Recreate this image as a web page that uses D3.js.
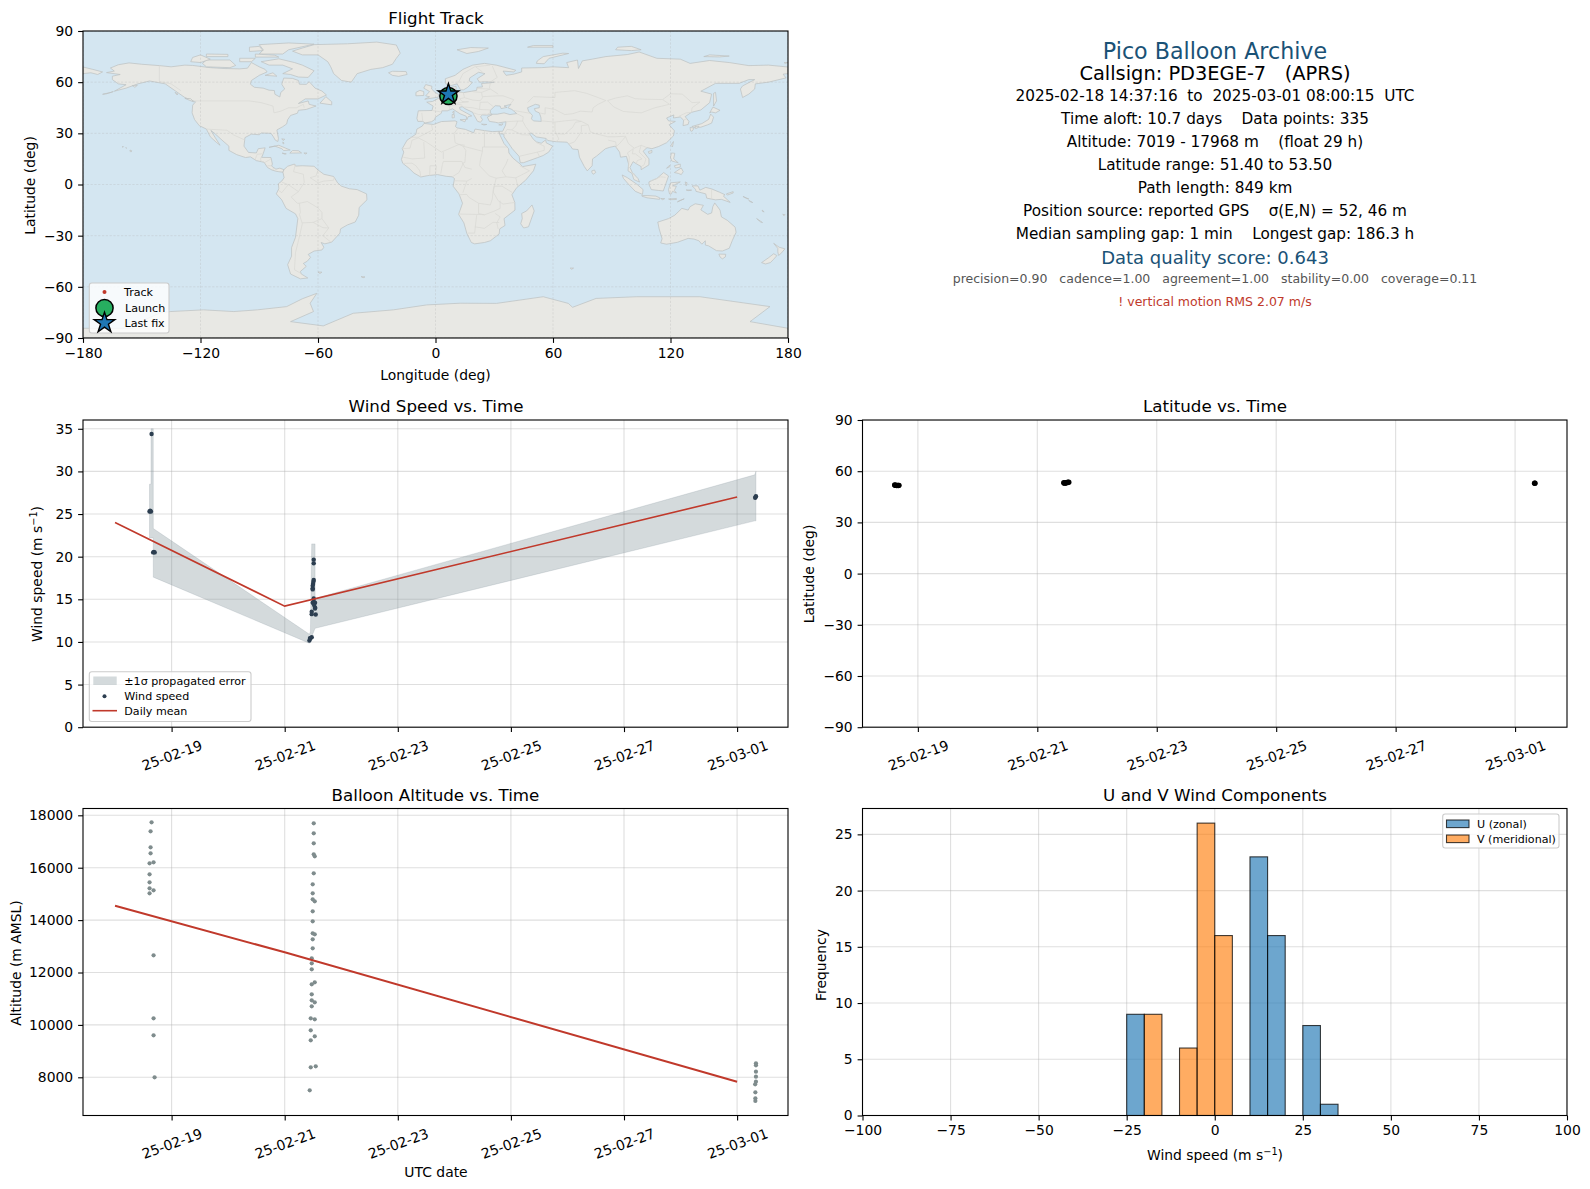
<!DOCTYPE html>
<html><head><meta charset="utf-8">
<script src="https://cdnjs.cloudflare.com/ajax/libs/d3/7.8.5/d3.min.js"></script>
<style>
html,body{margin:0;padding:0;background:#fff}
svg{display:block}
text{font-family:"DejaVu Sans",sans-serif}
</style></head><body><div id="c"></div>
<script>
// ---------- DATA ----------
const landPolygons = [
 // North America
 [[-168,65.6],[-164,66.5],[-166,68.3],[-162,70.2],[-156.5,71.3],[-150,70.5],[-141,69.7],[-135,69],[-128,70],[-124,69.8],[-115,68.5],[-108,68],[-100,67.8],[-96,68.2],[-94,71.5],[-90,69],[-87,67.5],[-86,66],[-90,64],[-94,61],[-94.5,58.8],[-92.5,57],[-88,56.5],[-85,55.3],[-82.3,55.1],[-82,52.9],[-79.5,51.3],[-79,54],[-77,56],[-78.5,58.8],[-77.5,62.4],[-73,62.2],[-70,61],[-69.5,58.8],[-66,58.7],[-64.5,60.3],[-61.5,56.5],[-58,54.8],[-55.7,52.5],[-60,50.2],[-66.5,50.2],[-70,47.5],[-65,49],[-64.5,47],[-61,46],[-66,44],[-70,43.5],[-70.5,41.8],[-74,40.5],[-75.5,38],[-76,35.5],[-78,33.9],[-81,32],[-80.2,27],[-80.5,25.2],[-81.8,26],[-82.8,28],[-84,30],[-89,30.2],[-90,29.2],[-94,29.5],[-97.3,27.5],[-97.8,22.5],[-95.5,18.8],[-91.5,18.5],[-90.5,21],[-87,21.5],[-88,18],[-88.8,15.9],[-84,15.8],[-83.3,12],[-83.7,10.8],[-81.5,9],[-79.5,9.6],[-77.4,8.7],[-77.9,7.2],[-80,7.5],[-81.5,7.8],[-83.5,8.5],[-85.8,10],[-87.5,13],[-91.5,14],[-94.5,16.2],[-97,15.8],[-101.5,17.5],[-105.5,20],[-105.5,22.5],[-109,26],[-112.8,30],[-114.7,31.7],[-112.5,27.5],[-110,23],[-112,24.8],[-115,28],[-117,32.5],[-120.6,34.5],[-123,38],[-124.3,42],[-124,46.5],[-122.5,48.5],[-128,51],[-133,55],[-138,59],[-146,60.7],[-152,59],[-158,56.5],[-164,54.7],[-158,58.5],[-162,59],[-165,61.5],[-165,63.5],[-161,64.5]],
 // South America
 [[-77.4,8.7],[-75.5,10.7],[-72,12],[-71.5,10.8],[-68,11],[-62,10.7],[-60,8.5],[-57,6],[-52,4.7],[-50,1],[-48,-1],[-44,-2.5],[-40,-3],[-35.2,-5.5],[-35,-9],[-39,-13.5],[-39.2,-18],[-41,-22],[-45,-23.7],[-48.5,-26],[-48.8,-28.5],[-53,-33.8],[-56.5,-34.8],[-58.4,-34],[-57,-36.8],[-58,-38.4],[-62,-39],[-65,-41],[-63.8,-42.7],[-65.5,-45],[-67.5,-46.3],[-66,-48],[-69,-51],[-68.5,-52.5],[-65.2,-54.8],[-69,-55.3],[-74,-52.5],[-75.5,-47],[-73.5,-42],[-73.5,-37],[-71.5,-31],[-70.3,-20],[-71.5,-17.2],[-76.3,-14],[-78.5,-9],[-81.3,-5.5],[-80,-2.5],[-80.2,0.5],[-78.5,2],[-77.3,4],[-77.9,7.2]],
 // Greenland
 [[-73,78.2],[-68,80],[-62,82],[-45,82.5],[-30,83.5],[-20,81.8],[-18,77],[-20,74],[-22,70.5],[-27,68.5],[-33,67.5],[-40,65],[-43,60],[-48,61],[-52,65],[-53.5,69],[-55,72],[-60,76],[-68,76]],
 // Canadian Arctic and Atlantic islands
 [[-80,73.7],[-72,71.5],[-68,70],[-62,66.7],[-65,62.8],[-70,63],[-74,64.5],[-78,65],[-73,67.8],[-78,70],[-85,70],[-89,72]],
 [[-117,69],[-105,68.5],[-102,69.8],[-105,73],[-117,73],[-119,71]],
 [[-125,72],[-120,71.5],[-115,73.5],[-120,76],[-124,74.5]],
 [[-90,76.5],[-78,76.5],[-75,79],[-62,82.3],[-75,83],[-90,82],[-88,79]],
 [[-92,74.7],[-80,74.7],[-82,75.8],[-92,76.5]],
 [[-117,75],[-106,75],[-106,76.3],[-117,76.5]],
 [[-95,78],[-88,78.5],[-90,81],[-95,80.5]],
 [[-100,72],[-94,72],[-92,74],[-100,74]],
 [[-87,64],[-81,63.5],[-83,65.5]],
 [[-59,47.7],[-53,46.7],[-53,48.5],[-56,51.5]],
 [[-128,50.5],[-123.5,48.4],[-125,50.3]],
 [[-133,54],[-131.5,53],[-132,52.5]],
 // Europe offshore
 [[-24,65.5],[-22,64],[-18.8,63.4],[-14.5,64.5],[-15,66.2],[-22,66.4]],
 [[-5.5,50],[1.3,51.2],[1.7,52.7],[-0.2,54],[-2,56],[-1.8,57.6],[-5,58.6],[-6,56.5],[-3,54.5],[-5,52],[-3,51.4]],
 [[-10,52],[-6,52.2],[-6,54.5],[-8,55.2],[-10,54]],
 [[8.5,41],[9.6,41],[9.6,39.2],[8.5,39]],
 [[8.7,42.5],[9.5,43],[9.4,41.5]],
 [[12.5,38],[15.5,38.2],[15,36.7]],
 [[23.5,35.4],[26.2,35.2],[24.7,34.9]],
 [[32.3,35],[34.5,35.6],[33.7,34.7]],
 // Caribbean and Pacific
 [[-85,21.8],[-80,23],[-74.2,20.2],[-77.5,19.9],[-78.5,21],[-82,22.5]],
 [[-74.4,18.4],[-68.4,18.5],[-70,19.8],[-73,19.9]],
 [[-78.3,18.4],[-76.2,18],[-77,17.8]],
 [[-67.2,18.5],[-65.6,18.4],[-66.5,17.9]],
 [[-78.5,26.8],[-77,26.5],[-77.8,25.8]],
 [[-78,25],[-77.3,24.2],[-77.8,23.8]],
 [[-156,20.2],[-155,19.7],[-155.6,19],[-156,19.6]],
 [[-158.2,21.6],[-157.7,21.4],[-158,21.2]],
 [[-160,22.2],[-159.3,22.2],[-159.6,21.8]],
 [[-170,52.9],[-166,53.9],[-164.5,54.5],[-168,53.2]],
 [[-154.8,58],[-152.2,58.2],[-153.5,57]],
 [[-60,-51.3],[-58,-51.4],[-59,-52.2]],
 [[-38,-54],[-36,-54.2],[-37,-54.7]],
 // Chukotka west of the date line
 [[-180,68.9],[-175,67.5],[-170,66],[-172.5,64.5],[-176,65.5],[-180,65]],
 // Eurasia
 [[-9,37],[-9.5,38.8],[-8.8,43.2],[-1.8,43.4],[-1.2,46],[-4.5,48.3],[-1.5,48.7],[1.5,50.5],[4,52],[7,53.5],[8.6,54],[8.2,57],[10.5,57.6],[10.5,55],[12,54.2],[14.3,53.9],[18.5,54.7],[21,55.2],[21.2,57],[24,57.2],[23.5,59.2],[28,59.6],[30,60],[25,60.2],[22.5,60],[21.3,62],[25.3,65],[22,65.8],[17.5,62.5],[17.2,60.7],[18.8,59.8],[16.5,57],[14.3,55.5],[12.8,55.5],[11,59],[8,58],[5.2,59],[5,62],[10,64],[14,67.5],[19,70],[25,71],[31,70],[41,67],[40,66],[34.5,66.5],[36,64],[40,64.7],[44,66],[44,68.3],[54,68.5],[60,69],[68,68.5],[67,71.5],[72.5,73],[73,68],[75,72.5],[80,73.5],[87,75],[98,76.2],[104,77.7],[113,74],[125,73.5],[130,71],[140,72.7],[150,71.5],[160,69.7],[170,70],[180,68.9],[180,65],[177.5,64.7],[179,62.5],[170,60],[163.3,59],[163,56],[160,53],[156.8,51],[155.7,56],[156.8,57.8],[163,61.5],[160,61.5],[155,59.3],[143,59.3],[135.5,54.7],[141,53],[140,48],[135.5,43.7],[130.7,42.3],[127.5,39.8],[129.4,37],[129,35.2],[126.4,34.5],[126.7,37.7],[125,39.6],[121.5,39],[121.7,40.8],[118,39],[119,37.3],[122.5,37],[119.3,35],[122,31.5],[121.5,28.5],[118,24.5],[114,22.3],[110.5,21],[108,21.6],[106,19.5],[109,15],[109,11.5],[105,8.7],[105,10.5],[102.5,12.2],[100.9,13.4],[99.3,10],[100.5,7],[103.4,3.5],[104.2,1.4],[101.3,2.9],[100.3,6.5],[98.3,8],[98.6,12],[97.5,16.5],[94.5,16],[94,19],[91.8,22.5],[89,21.8],[86.8,21],[82.3,16.7],[80.2,15],[80,11],[77.5,8],[76,10.5],[73.5,16],[72.8,20.5],[70,20.8],[69,22.4],[67.2,24.8],[61.5,25.1],[57.3,25.8],[56.5,27],[51.5,27.9],[48.8,30.2],[48,29.8],[50,26.5],[51.5,25],[54,24.2],[56.3,26.2],[56.5,24.5],[59.8,22.5],[57.8,19],[55,17],[52,15.7],[45,12.8],[43.3,12.7],[42.7,16.5],[39.2,21],[35,28],[34.9,29.5],[32.6,29.8],[32.3,31.2],[34.3,31.2],[35.8,34.8],[36,36.8],[32,36.1],[30.5,36.5],[27.5,37],[26.5,39.5],[29,41],[26,40.7],[24,40.8],[23,39.8],[24,38],[23,36.5],[21.5,37],[19.5,41],[19,42.3],[15,44.5],[13.7,45.6],[12.3,45.3],[12.5,44],[16,41.8],[18.5,40.2],[16.7,39.8],[16,38],[15.7,40],[12.5,41.5],[10.5,43],[8.7,44.4],[6,43.2],[3.2,43.2],[3,41.8],[0,39.5],[-0.5,38],[-2,36.8],[-5.3,36.1],[-6.5,37]],
 // Africa
 [[-5.9,35.8],[-1,35.2],[3,36.9],[10,37.3],[11,36.8],[10.2,34],[11,33.2],[15.3,32.3],[19.5,30.3],[20.2,32.5],[25,31.6],[29,31],[32.3,31.2],[32.6,29.8],[35,24],[37.3,21],[37.5,18.5],[39.5,15.5],[43.2,12],[44.5,10.5],[51.2,11.9],[50,8],[46,2.5],[41.5,-1.8],[39,-6],[40.5,-10.5],[40.6,-15],[35,-20],[35.5,-24],[32.8,-26],[32.5,-29],[28,-33],[25,-34],[20,-34.8],[18.3,-34],[16,-28.7],[14.5,-22.5],[11.8,-17.5],[13.8,-11],[12,-5.5],[9,-1],[9.7,3.5],[8.5,4.5],[5.5,4.8],[1,5.8],[-4,5.2],[-7.5,4.4],[-11,6.7],[-13.5,9.5],[-16.7,12.4],[-17.4,14.7],[-16.2,19],[-17,21],[-14.5,26],[-10,29.5],[-9.5,32.5],[-6.8,34.2]],
 [[49.3,-12],[50.4,-15.5],[47.5,-24.8],[45,-25.5],[43.5,-23],[44.3,-20],[44,-17],[46.5,-15.5]],
 // Asia offshore
 [[79.8,8],[81.2,8.5],[81.8,7],[80.5,6],[79.9,7]],
 [[120.2,23],[121.5,25.2],[121,22]],
 [[108.7,19.3],[110.5,20],[110.5,18.7],[109,18.2]],
 [[130.9,34],[136,35.7],[139.5,38.2],[140.5,41.3],[142,39.5],[141,36],[139,35],[135.5,33.6],[132,33.5]],
 [[130,33.5],[132,33],[131,31.2],[130.2,31.5]],
 [[132.5,34],[134.5,34.2],[134,33.3],[132.8,32.8]],
 [[140,42],[141.7,45.4],[145.3,43.5],[143,42],[141,42.5]],
 [[142,46],[143.5,49],[143,54],[142,53.5],[142,49]],
 [[51.5,71],[55.5,70.8],[58,74],[68,76.8],[65,77],[55,75],[52,72.5]],
 [[11,79],[16,76.8],[22,78],[27,80],[18,80.3]],
 [[47,80.5],[60,80.5],[60,81.5],[50,81.5]],
 [[92,79],[100,78.5],[105,79],[100,81],[93,80.5]],
 [[137,75],[145,74.8],[150,75.3],[140,76]],
 [[178.5,71],[180,71.5],[178,71.5]],
 [[95.3,5.6],[98,4],[103,0],[106,-3],[105.7,-5.8],[102,-4],[98.7,0],[96,3.5]],
 [[105.3,-6.5],[108.5,-6.5],[112.5,-6.8],[114.5,-7.8],[114.4,-8.7],[108,-7.8],[105.5,-6.9]],
 [[109,1.5],[111.5,2.8],[113,3.5],[116.5,7],[119,5],[117.8,1],[116.3,-3.8],[114,-3.5],[110.2,-3],[109,0]],
 [[119.5,-5.5],[119,-3],[120,1],[125,1.5],[121,-0.8],[123,-1],[122,-3.5],[123,-5],[121,-4],[120.5,-5.5]],
 [[131,-0.8],[134,-0.8],[135,-3.3],[138,-1.7],[141,-2.6],[145,-4.5],[147.8,-6],[147,-6.8],[150.5,-10.5],[146,-8.7],[143,-9],[138.5,-8],[138,-5.5],[133,-4],[132.8,-2.8]],
 [[148.5,-5.5],[152,-4.2],[152,-5],[149,-6.2]],
 [[120.5,18.5],[122.2,18.3],[121.6,15],[124,12.7],[120.6,13.8],[120,16]],
 [[122,7],[125.5,9.7],[126.5,7.5],[125.5,5.8],[124,6.5]],
 [[122,11],[125,12],[125,10.2],[122.5,9.7]],
 [[118,9.5],[119.5,11.3],[119.7,10.5]],
 [[123.5,-10.2],[127,-8.4],[125,-9.3]],
 [[119,-8.5],[123,-8.2],[123,-8.8],[119.8,-8.9]],
 [[115,-8.2],[117,-8.3],[116,-8.9]],
 [[127.5,1.5],[128.5,1],[128,-0.8]],
 [[128,-3.2],[130.8,-3.3],[129,-3.6]],
 [[157,-7],[160,-8.5],[159,-8.3]],
 [[160,-9.3],[162,-10.6],[160.5,-10]],
 [[166.8,-15],[167.8,-16],[167,-15.8]],
 [[164,-20],[167,-22.3],[166,-22]],
 [[177.3,-17.5],[178.5,-17.7],[178,-18.3]],
 // Australia, New Zealand
 [[113.5,-22],[114.2,-26],[115.7,-31.8],[115,-34.3],[118,-35],[123.5,-33.9],[129,-31.6],[132,-32],[134.5,-33],[136,-35],[137.8,-33],[137.8,-35.5],[139.5,-36],[143.5,-38.8],[146.5,-39],[150,-37.4],[151.5,-33],[153.5,-28],[153,-25],[149,-21],[146,-19],[145.3,-15],[142.6,-10.8],[141.6,-13],[141,-16.7],[139,-17.5],[135.5,-14.9],[136.8,-12.2],[132.6,-11.3],[130,-13],[129,-15],[125.8,-14],[122.2,-18],[119,-20],[114.2,-21.8]],
 [[144.7,-40.8],[148.2,-40.9],[148,-42.5],[146.5,-43.6],[145.3,-42.5]],
 [[172.7,-34.5],[175.5,-36.8],[178.4,-37.7],[176.8,-40],[175.2,-41.6],[174.8,-39.5],[174.8,-37.5]],
 [[172.7,-40.6],[174.3,-41.7],[172.7,-43.8],[171,-45.8],[168.5,-46.6],[166.5,-45.8],[170,-43]],
 [[68.8,-49],[70.5,-49],[69.5,-49.7]],
 // Antarctica
 [[-180,-90],[-180,-84.3],[-155,-84.3],[-148,-79],[-140,-75],[-135.5,-74.5],[-118.5,-73.5],[-103,-74.5],[-91,-73.5],[-76,-71.6],[-68,-67],[-60.6,-63.8],[-64,-69.6],[-62.3,-74.5],[-74,-80.4],[-57.3,-82.9],[-42,-75.5],[-21.5,-73.5],[-4.5,-70.6],[12.6,-69.6],[31.2,-69.7],[55,-65.8],[67.8,-69.7],[70,-72],[82,-66.8],[102.7,-65.8],[135,-65.8],[170.8,-71.6],[160.6,-80.4],[180,-84.3],[180,-90]]
];
const waterPolygons = [
 [[29,41.2],[31.5,41.2],[35,42],[38,41],[41.5,41.6],[39,44],[37,45],[38.5,47],[35,46],[36.5,45.2],[33.5,44.5],[33,46],[30.5,46.2],[28,43.5],[28,41.8]],
 [[47,45],[51,47],[53,46.5],[53,45],[50.5,44.5],[51,43],[53,42],[53.8,39.5],[54,37],[50,37.3],[49,38.5],[49.5,40.5],[47.5,43]]
];
const borderLines = [
 [[-123,49],[-95,49],[-89,48],[-83,46],[-82.5,42],[-79,43],[-75,45],[-71,45],[-67.5,47],[-67,45]],
 [[-141,69.7],[-141,60.3],[-135,59],[-130,55]],
 [[-117,32.5],[-106.5,31.8],[-103,29],[-97.2,26]],
 [[-92.2,14.5],[-91,17.8],[-89,17.9],[-88.3,18.5]],
 [[-89.2,15.9],[-89.3,14],[-87.5,13]],[[-84,15],[-87,13]],[[-83.7,11],[-85.8,11]],[[-83,8.5],[-82.8,9.6]],
 [[-71.5,12],[-72.5,7.5],[-67.5,6],[-67,1.2]],
 [[-67,1.2],[-70,-4.2],[-75,-0.2],[-78.5,1.4]],
 [[-80.3,-3.4],[-78.5,-4.8],[-75.2,-0.1]],
 [[-70,-4.2],[-73.7,-7.3],[-70.6,-11],[-69.5,-11],[-65.4,-10],[-60,-13.7],[-58,-16.3],[-58,-20],[-54.5,-25.5],[-57.5,-30],[-53.5,-33.7]],
 [[-60,8.5],[-61,5],[-64,4],[-60,1],[-57,2],[-52,2.5],[-51.7,4.3]],
 [[-69.5,-11],[-69,-16.5],[-69.5,-17.5],[-68,-23],[-70,-33],[-71.5,-40],[-72,-50],[-68.5,-52.3]],
 [[-68,-22.5],[-62.5,-22.2],[-58,-20]],[[-62.5,-22.2],[-57.5,-25.3],[-54.5,-25.5]],
 [[-2,35],[-1.5,32],[-8.7,27.7],[-13,27.7]],
 [[-8.7,27.3],[-4.8,25],[3,19],[12,23.5],[15,23]],
 [[-17,21],[-13,21.3],[-12,26],[-8.7,27.3]],
 [[-6,24.9],[-5.5,15.5],[-12,15],[-16.5,16]],
 [[11.5,33],[9.5,30],[10,24.5],[12,23.5],[14,22.5],[24,19.5],[24,22],[25,22],[25,31.5]],
 [[25,22],[37,22]],
 [[14,22.5],[15.5,20],[15,13],[14,12.5],[15,10],[18.5,9]],
 [[24,19.5],[23,15],[22.5,11]],
 [[22.5,11],[27.5,5],[31,3.7],[34,4.2],[36,4.5],[41,3.9],[42,-1]],
 [[37,15],[36,12],[34,8],[36,4.5]],
 [[41,3.9],[48,8],[43,11]],
 [[2.7,6.4],[3.5,11.7],[4,13.5],[13.5,13.5],[14,12],[12,7],[8.7,4.6]],
 [[-3,5],[-2.8,11],[0.5,11],[0,6]],
 [[-7.5,4.4],[-8,8],[-10,11],[-12,12.5],[-16.5,12.4]],
 [[4,15],[4,19]],
 [[12.2,-6],[16,-5.8],[17,-7.5],[22,-11],[28,-12],[29,-8.5],[29.5,-3],[31,3.7]],
 [[18.5,3.5],[16,2],[14,-4.8]],[[9.6,2.2],[16,2]],
 [[11.8,-17.3],[23.4,-17.6],[25,-17.8]],
 [[21,-18],[20,-28.5],[16.5,-28.5]],
 [[20,-24.8],[25,-25.7],[29.3,-22.2],[32.5,-22.3]],
 [[30.5,-17],[33,-19],[31.3,-22.4],[32,-26]],
 [[34,-1],[39.2,-4.7]],
 [[34,-1],[30,-1],[29.5,-4.5],[32,-9.5],[34.5,-11.5],[40.5,-10.5]],
 [[22,-11],[22,-17],[25,-17.8],[30,-15.6],[33,-14],[33,-9.5]],
 [[-1.8,43.4],[3.2,42.5]],
 [[-7,42],[-6.5,37]],
 [[2.5,51],[6,49.5],[8,49],[7.5,47.5],[6.9,46],[7.5,43.8]],
 [[6.5,53],[6,50.8]],
 [[9,54.8],[14.2,53.9],[14.8,50.9],[12.5,50.3],[13.5,48.7],[16.9,48.5],[9.6,47.5]],
 [[7,45.9],[12,47],[13.7,46.5]],
 [[14.8,50.9],[19,49.5],[22.8,49.1],[24,50.8],[23.5,54],[19,54.4]],
 [[22.8,48.2],[26.6,48.3],[29.7,45.5]],
 [[24,51.5],[32,52],[34.5,52],[40,49.7],[38.2,47.1]],
 [[23.5,54],[28,56],[32,53]],[[21,56.3],[28,56]],[[28,59.5],[27.5,56.5]],
 [[28.5,60.5],[31.5,62.8],[29,69.5]],
 [[11.2,59],[12.5,61.5],[14,65],[20,69],[28,70]],
 [[24,66],[20.5,69]],
 [[13.7,45.5],[19,45],[22.5,44],[22.8,48.2]],
 [[19.5,42],[22,41],[26,41.3]],[[22.5,44],[28,43.7]],
 [[26.5,41.3],[28,42]],
 [[36,36.8],[42,37.2],[44.5,37.2],[44.8,39.7],[41.5,41.5]],
 [[40,43.4],[48.5,41.7]],
 [[42,37.2],[41,34.4],[39,32],[36.5,32.3],[35,29.5]],
 [[39,32],[44,29.2],[48,29]],
 [[43,16.6],[52,19],[55.5,20],[55.5,22.5],[51.6,24.5]],[[52,19],[53,16.7]],
 [[44.5,37.2],[46,34],[48.5,30.2]],
 [[61,36.6],[61,31.5],[63,26.6],[61.5,25.1]],
 [[61,29.8],[66,29.5],[70,33.5],[71.5,36.5],[74.5,37]],
 [[61,36.6],[66,37.3],[71.5,37.9],[74.5,37]],
 [[47,48],[50,51.5],[61,51],[61,54],[71,55],[77,53.5],[83,51],[87,49.2]],
 [[53,42],[56,41.3],[56,45],[61,44],[66,41],[70,41.5],[74,43],[80,42.5],[80.5,45],[83,47],[87,49.2]],
 [[54,37.3],[61,36.6]],
 [[87.8,49.2],[92,50.7],[98,52],[102,50.3],[107,50],[116,49.8],[119.5,47],[112,45],[105,42],[96,42.8],[91,45.5],[87.8,49.2]],
 [[116,49.8],[120,53.2],[126,53],[131,48],[135,48.3],[131,45],[130.7,42.4]],
 [[124.3,40],[128,42],[130.7,42.3]],[[126.7,37.8],[128.4,38.6]],
 [[74.5,37],[78,35],[79,31],[81,30],[88,28],[92,28],[97,28.3],[98.5,24],[101.5,21.3],[105,23],[108,21.6]],
 [[68,23.7],[71,25],[74.5,31],[74.5,34.5],[78,35]],
 [[88.2,26],[92,25],[92.5,21]],[[92,22],[94,24],[97,28]],
 [[98.5,10],[99,16],[98,18.5],[101,21],[100.5,18],[102,18],[105.5,15],[103,14],[102.5,12]],
 [[105,23],[104,19],[107.5,15],[106.5,11.5],[105,10.5]],
 [[100.3,6.5],[102,6]],
 [[141,-2.6],[141,-9]],
 [[109.6,2],[115,4.5],[117.5,4.2]]
];
const trackLon = [5.2,5.6,6.1,6.6,7.4,7.9];
const trackLat = [51.4,51.6,51.9,52.8,53.3,53.5];
const launchPoint = {lon:6.6, lat:51.9};
const lastPoint = {lon:6.6, lat:52.9};

const lonTicks = [-180,-120,-60,0,60,120,180];
const latTicks = [-90,-60,-30,0,30,60,90];
const dateTicks = ["02-19 00:00","02-21 00:00","02-23 00:00","02-25 00:00","02-27 00:00","03-01 00:00"];

const windTimes = ["02-18 15:30","02-18 14:37","02-18 14:55","02-18 15:15","02-18 16:10","02-18 16:30","02-18 16:50",
 "02-21 12:19","02-21 12:19","02-21 12:19","02-21 12:11","02-21 12:02","02-21 11:53","02-21 11:53","02-21 11:53",
 "02-21 12:19","02-21 12:19","02-21 11:53","02-21 12:53","02-21 12:28","02-21 12:53","02-21 12:53","02-21 11:28","02-21 11:28","02-21 13:10",
 "02-21 11:28","02-21 10:54","02-21 10:29","02-21 10:45",
 "03-01 07:40","03-01 07:50","03-01 08:00"];
const windValues = [34.38,25.3,25.4,25.3,20.5,20.55,20.5,
 19.65,19.22,17.26,17.06,16.8,16.6,16.3,16.16,
 15.1,14.71,14.6,14.6,14.32,14.05,13.93,13.54,13.26,13.22,
 10.56,10.4,10.17,10.45,
 26.9,27,27.1];
const bandTimes = ["02-18 14:37","02-18 15:15","02-18 15:16","02-18 16:13","02-18 16:14","02-21 10:29","02-21 10:55","02-21 11:28","02-21 12:53","02-21 12:54","03-01 07:30","03-01 08:00"];
const bandUpper = [28.5,28.5,35,35,23.3,10.9,11.2,21.5,21.5,15.1,29.6,30];
const bandLower = [22.2,22.2,22.2,22.2,17.6,9.85,10.2,10.6,11.6,11.6,24.2,24.2];
const dailyTimes = ["02-18 00:00","02-21 00:00","03-01 00:00"];
const dailyWind = [24,14.2,27];
const dailyAlt = [14550,12770,7830];
const windTicks = [0,5,10,15,20,25,30,35];

const altTimes = ["02-18 15:30","02-18 15:05","02-18 15:05","02-18 15:05","02-18 14:39","02-18 16:21","02-18 14:39","02-18 14:39","02-18 14:39","02-18 16:21","02-18 14:39","02-18 16:21","02-18 16:21","02-18 16:21","02-18 16:47",
 "02-21 12:19","02-21 12:19","02-21 12:19","02-21 12:19","02-21 12:45","02-21 12:19","02-21 11:53","02-21 11:53","02-21 11:53","02-21 12:45","02-21 11:53","02-21 11:53","02-21 11:53","02-21 12:45","02-21 11:53","02-21 11:53","02-21 11:28","02-21 11:28","02-21 11:28","02-21 12:45","02-21 11:28","02-21 11:28","02-21 11:28","02-21 12:45","02-21 11:28","02-21 11:03","02-21 12:45","02-21 11:03","02-21 12:45","02-21 11:03","02-21 11:03","02-21 13:10","02-21 10:37",
 "03-01 08:00","03-01 08:00","03-01 08:00","03-01 08:00","03-01 08:00","03-01 07:40","03-01 07:45","03-01 07:45","03-01 07:45"];
const altValues = [17733,17389,16779,16550,16168,16206,15748,15443,15214,15137,15023,12656,10252,9603,8000,
 17695,17313,16931,16511,16435,15786,15366,15023,14794,14718,14336,13954,13496,13458,13267,12924,12542,12351,12122,11626,11550,11168,10939,10863,10710,10252,10214,9794,9565,9412,8382,8420,7504,
 8534,8458,8214,8023,7832,7733,7427,7198,7100];
const altTicks = [8000,10000,12000,14000,16000,18000];

const latTimes = ["02-18 14:41","02-18 14:55","02-18 15:10","02-18 15:30","02-18 15:50","02-18 16:10","02-18 16:25",
 "02-21 10:38","02-21 10:55","02-21 11:15","02-21 11:35","02-21 11:55","02-21 12:15","02-21 12:39",
 "03-01 07:50","03-01 08:00"];
const latValues = [51.9,51.8,51.7,51.6,51.7,51.6,51.7,
 53.2,53.0,53.1,53.2,53.3,53.5,53.5,
 52.9,53.0];

const histEdgesU = [-25,10,15,25,30];
const histCountsU = [9,23,16,8,1];
const histEdgesV = [-20,-10,-5,0];
const histCountsV = [9,6,26,16];
const histBinWidth = 5;
const histXTicks = [-100,-75,-50,-25,0,25,50,75,100];
const histYTicks = [0,5,10,15,20,25];

const infoLines = [
 {t:"Pico Balloon Archive", y:51, s:22.2, c:"#1a5276"},
 {t:"Callsign: PD3EGE-7   (APRS)", y:73.5, s:19.4, c:"#000"},
 {t:"2025-02-18 14:37:16  to  2025-03-01 08:00:15  UTC", y:95, s:15.28, c:"#000"},
 {t:"Time aloft: 10.7 days    Data points: 335", y:118, s:15.28, c:"#000"},
 {t:"Altitude: 7019 - 17968 m    (float 29 h)", y:141, s:15.28, c:"#000"},
 {t:"Latitude range: 51.40 to 53.50", y:164, s:15.28, c:"#000"},
 {t:"Path length: 849 km", y:187, s:15.28, c:"#000"},
 {t:"Position source: reported GPS    σ(E,N) = 52, 46 m", y:210, s:15.28, c:"#000"},
 {t:"Median sampling gap: 1 min    Longest gap: 186.3 h", y:233, s:15.28, c:"#000"},
 {t:"Data quality score: 0.643", y:258, s:18, c:"#1a5276"},
 {t:"precision=0.90   cadence=1.00   agreement=1.00   stability=0.00   coverage=0.11", y:278, s:12.5, c:"#555"},
 {t:"! vertical motion RMS 2.07 m/s", y:301, s:12.5, c:"#c0392b"}
];

// ---------- LAYOUT ----------
const W=1590,H=1189;
const colL=[83,788], colR=[862.5,1567];
const rowT=[31,338], rowM=[420,727.2], rowB=[808.5,1115.5];
const FS=13.9, GRID="#b0b0b0";
const t=s=>d3.utcParse("%Y-%m-%d %H:%M")("2025-"+s);

const svg=d3.select("#c").append("svg").attr("width",W).attr("height",H).attr("viewBox",`0 0 ${W} ${H}`);
svg.append("defs").selectAll("clipPath").data([["cTL",colL,rowT],["cML",colL,rowM],["cMR",colR,rowM],["cBL",colL,rowB],["cBR",colR,rowB]])
 .join("clipPath").attr("id",d=>d[0]).append("rect")
 .attr("x",d=>d[1][0]).attr("y",d=>d[2][0]).attr("width",d=>d[1][1]-d[1][0]).attr("height",d=>d[2][1]-d[2][0]);

function grid(g,x,y,xt,yt,col,row,opt={}){
 const gg=g.append("g").attr("fill","none").attr("stroke",GRID).attr("stroke-opacity",opt.op||0.4).attr("stroke-width",opt.w||1.1);
 if(opt.dash) gg.attr("stroke-dasharray",opt.dash);
 gg.selectAll(".vg").data(xt).join("line").attr("x1",d=>x(d)).attr("x2",d=>x(d)).attr("y1",row[0]).attr("y2",row[1]);
 gg.selectAll(".hg").data(yt).join("line").attr("y1",d=>y(d)).attr("y2",d=>y(d)).attr("x1",col[0]).attr("x2",col[1]);
}
function frame(x,y,xt,yt,col,row,xfmt,rot,yfmt){
 const g=svg.append("g");
 const ax=d3.axisBottom(x).tickValues(xt).tickSize(4.9).tickPadding(4.9).tickFormat(xfmt);
 const ay=d3.axisLeft(y).tickValues(yt).tickSize(4.9).tickPadding(4.9).tickFormat(yfmt||(d=>d3.format("d")(d)));
 const gx=g.append("g").attr("transform",`translate(0,${row[1]})`).call(ax);
 const gy=g.append("g").attr("transform",`translate(${col[0]},0)`).call(ay);
 [gx,gy].forEach(a=>{a.select(".domain").remove();a.attr("font-family",null).attr("font-size",null);
  a.selectAll("line").attr("stroke","#000").attr("stroke-width",1.1);
  a.selectAll("text").attr("font-size",FS).attr("fill","#000");});
 if(rot){gx.selectAll("text").attr("y",0).attr("dy",0).attr("text-anchor","middle").attr("dominant-baseline","central")
   .attr("transform",`translate(0,28) rotate(-20)`);}
 g.append("rect").attr("x",col[0]).attr("y",row[0]).attr("width",col[1]-col[0]).attr("height",row[1]-row[0])
  .attr("fill","none").attr("stroke","#000").attr("stroke-width",1.1);
}
function label(txt,x,y,size,opt={}){
 const e=svg.append("text").attr("text-anchor","middle").attr("font-size",size).attr("fill",opt.c||"#000");
 if(opt.rot) e.attr("transform",`translate(${x},${y}) rotate(-90)`); else e.attr("x",x).attr("y",y);
 e.text(txt);
 if(opt.sup){e.append("tspan").attr("font-size",size*0.7).attr("dy",-size*0.38).text("−1");
  e.append("tspan").attr("font-size",size).attr("dy",size*0.38).text(")");}
 return e;
}
function legendBox(x0,y0,x1,y1){svg.append("rect").attr("x",x0).attr("y",y0).attr("width",x1-x0).attr("height",y1-y0).attr("rx",2.5)
 .attr("fill","#fff").attr("fill-opacity",0.8).attr("stroke","#ccc").attr("stroke-width",1.1);}
function legendText(s,x,y){svg.append("text").attr("x",x).attr("y",y+3.9).attr("font-size",11.1).attr("fill","#000").text(s);}
const tfmt=d=>d3.utcFormat("%y-%m-%d")(d);

// ---------- MAP ----------
{
 const x=d3.scaleLinear().domain([-180,180]).range(colL), y=d3.scaleLinear().domain([-90,90]).range([rowT[1],rowT[0]]);
 const g=svg.append("g").attr("clip-path","url(#cTL)");
 g.append("rect").attr("x",colL[0]).attr("y",rowT[0]).attr("width",colL[1]-colL[0]).attr("height",rowT[1]-rowT[0]).attr("fill","#d4e6f1");
 const line=d3.line().x(d=>x(d[0])).y(d=>y(d[1]));
 g.selectAll(".land").data(landPolygons).join("path").attr("d",d=>line(d)+"Z").attr("fill","#e8e8e4").attr("stroke","#bcc0c0").attr("stroke-width",0.7);
 g.selectAll(".water").data(waterPolygons).join("path").attr("d",d=>line(d)+"Z").attr("fill","#d4e6f1").attr("stroke","#bcc0c0").attr("stroke-width",0.7);
 g.selectAll(".bord").data(borderLines).join("path").attr("d",d=>line(d)).attr("fill","none").attr("stroke","#d8d8d4").attr("stroke-width",0.7);
 grid(g,x,y,lonTicks,latTicks,colL,rowT,{dash:"2.2,1.6",w:0.7,op:0.4});
 g.selectAll(".trk").data(trackLon).join("circle").attr("cx",d=>x(d)).attr("cy",(d,i)=>y(trackLat[i])).attr("r",1.6).attr("fill","#c0392b");
 g.append("circle").attr("cx",x(launchPoint.lon)).attr("cy",y(launchPoint.lat)).attr("r",8.6).attr("fill","#27ae60").attr("stroke","#000").attr("stroke-width",1.5);
 g.append("path").attr("d",d3.symbol(d3.symbolStar,132)()).attr("transform",`translate(${x(lastPoint.lon)},${y(lastPoint.lat)})`).attr("fill","#1f77b4").attr("stroke","#000").attr("stroke-width",1.4);
 frame(x,y,lonTicks,latTicks,colL,rowT,d3.format("d"),false,d3.format("d"));
 legendBox(89.3,283,169,333);
 svg.append("circle").attr("cx",104.5).attr("cy",292).attr("r",2).attr("fill","#c0392b");
 legendText("Track",124,292);
 svg.append("circle").attr("cx",104.5).attr("cy",308).attr("r",8.6).attr("fill","#27ae60").attr("stroke","#000").attr("stroke-width",1.5);
 legendText("Launch",125,308);
 svg.append("path").attr("d",d3.symbol(d3.symbolStar,132)()).attr("transform","translate(104.5,323)").attr("fill","#1f77b4").attr("stroke","#000").attr("stroke-width",1.4);
 legendText("Last fix",124.5,323);
 label("Flight Track",436,23.5,16.7);
 label("Longitude (deg)",435.5,380,FS);
 label("Latitude (deg)",35,185.5,FS,{rot:true});
}
// ---------- INFO ----------
svg.selectAll(".info").data(infoLines).join("text").attr("text-anchor","middle").attr("x",1215).attr("y",d=>d.y+d.s*0.36)
 .attr("font-size",d=>d.s).attr("fill",d=>d.c).attr("xml:space","preserve").style("white-space","pre").text(d=>d.t);

// ---------- WIND ----------
{
 const x=d3.scaleUtc().domain([new Date(t("02-18 00:00").getTime()-0.5667*864e5),new Date(t("03-01 08:00").getTime()+0.5667*864e5)]).range(colL);
 const y=d3.scaleLinear().domain([0,36.03]).range([rowM[1],rowM[0]]);
 const xt=dateTicks.map(t);
 const g=svg.append("g").attr("clip-path","url(#cML)");
 grid(g,x,y,xt,windTicks,colL,rowM);
 const band=bandTimes.map((s,i)=>({t:t(s),u:bandUpper[i],l:bandLower[i]}));
 g.append("path").attr("d",d3.area().x(d=>x(d.t)).y0(d=>y(d.l)).y1(d=>y(d.u))(band)).attr("fill","#7b8e96").attr("fill-opacity",0.33).attr("stroke","#7b8e96").attr("stroke-opacity",0.2).attr("stroke-width",1);
 g.selectAll(".w").data(windTimes).join("circle").attr("cx",d=>x(t(d))).attr("cy",(d,i)=>y(windValues[i])).attr("r",2.2).attr("fill","#2c3e50");
 g.append("path").attr("d",d3.line().x(d=>x(t(d))).y((d,i)=>y(dailyWind[i]))(dailyTimes)).attr("fill","none").attr("stroke","#c0392b").attr("stroke-width",1.6);
 frame(x,y,xt,windTicks,colL,rowM,tfmt,true);
 legendBox(89.3,671.7,251,721.5);
 svg.append("rect").attr("x",93.3).attr("y",676.5).attr("width",23.4).attr("height",8.5).attr("fill","#7b8e96").attr("fill-opacity",0.33);
 legendText("±1σ propagated error",124.3,681);
 svg.append("circle").attr("cx",104.5).attr("cy",696.3).attr("r",2).attr("fill","#2c3e50");
 legendText("Wind speed",124.3,696);
 svg.append("line").attr("x1",92.5).attr("x2",117).attr("y1",710.7).attr("y2",710.7).attr("stroke","#c0392b").attr("stroke-width",1.6);
 legendText("Daily mean",124.3,711);
 label("Wind Speed vs. Time",436,412,16.7);
 label("Wind speed (m s",42,574,FS,{rot:true,sup:true});
}
// ---------- LATITUDE ----------
{
 const x=d3.scaleUtc().domain([new Date(t("02-18 14:37").getTime()-0.536*864e5),new Date(t("03-01 08:00").getTime()+0.536*864e5)]).range(colR);
 const y=d3.scaleLinear().domain([-90,90]).range([rowM[1],rowM[0]]);
 const xt=dateTicks.map(t);
 const g=svg.append("g").attr("clip-path","url(#cMR)");
 grid(g,x,y,xt,latTicks,colR,rowM);
 g.selectAll(".l").data(latTimes).join("circle").attr("cx",d=>x(t(d))).attr("cy",(d,i)=>y(latValues[i])).attr("r",2.7).attr("fill","#000");
 frame(x,y,xt,latTicks,colR,rowM,tfmt,true);
 label("Latitude vs. Time",1215,412,16.7);
 label("Latitude (deg)",814,574,FS,{rot:true});
}
// ---------- ALTITUDE ----------
{
 const x=d3.scaleUtc().domain([new Date(t("02-18 00:00").getTime()-0.5667*864e5),new Date(t("03-01 08:00").getTime()+0.5667*864e5)]).range(colL);
 const y=d3.scaleLinear().domain([6542,18260]).range([rowB[1],rowB[0]]);
 const xt=dateTicks.map(t);
 const g=svg.append("g").attr("clip-path","url(#cBL)");
 grid(g,x,y,xt,altTicks,colL,rowB);
 g.selectAll(".a").data(altTimes).join("circle").attr("cx",d=>x(t(d))).attr("cy",(d,i)=>y(altValues[i])).attr("r",2.1).attr("fill","#7f8c8d");
 g.append("path").attr("d",d3.line().x(d=>x(t(d))).y((d,i)=>y(dailyAlt[i]))(dailyTimes)).attr("fill","none").attr("stroke","#c0392b").attr("stroke-width",2);
 frame(x,y,xt,altTicks,colL,rowB,tfmt,true);
 label("Balloon Altitude vs. Time",435.5,801,16.7);
 label("UTC date",436,1177,FS);
 label("Altitude (m AMSL)",21,963,FS,{rot:true});
}
// ---------- HISTOGRAM ----------
{
 const x=d3.scaleLinear().domain([-100,100]).range(colR);
 const y=d3.scaleLinear().domain([0,27.3]).range([rowB[1],rowB[0]]);
 const g=svg.append("g").attr("clip-path","url(#cBR)");
 grid(g,x,y,histXTicks,histYTicks,colR,rowB);
 const bars=(edges,counts,col)=>g.selectAll(null).data(edges).join("rect")
  .attr("x",d=>x(d)).attr("width",d=>x(d+histBinWidth)-x(d))
  .attr("y",(d,i)=>y(counts[i])).attr("height",(d,i)=>y(0)-y(counts[i]))
  .attr("fill",col).attr("fill-opacity",0.65).attr("stroke","#000").attr("stroke-opacity",0.75).attr("stroke-width",1.1);
 bars(histEdgesU,histCountsU,"#1f77b4");
 bars(histEdgesV,histCountsV,"#ff7f0e");
 frame(x,y,histXTicks,histYTicks,colR,rowB,d3.format("d"),false);
 legendBox(1442.7,814,1559,848);
 [["U (zonal)","#1f77b4",824],["V (meridional)","#ff7f0e",839]].forEach(r=>{
  svg.append("rect").attr("x",1446.5).attr("y",r[2]-4).attr("width",22.5).attr("height",7.6).attr("fill",r[1]).attr("fill-opacity",0.65).attr("stroke","#000").attr("stroke-opacity",0.75).attr("stroke-width",1.1);
  legendText(r[0],1477,r[2]);
 });
 label("U and V Wind Components",1215,801,16.7);
 label("Wind speed (m s",1215,1160,FS,{sup:true});
 label("Frequency",826,965,FS,{rot:true});
}
</script></body></html>
